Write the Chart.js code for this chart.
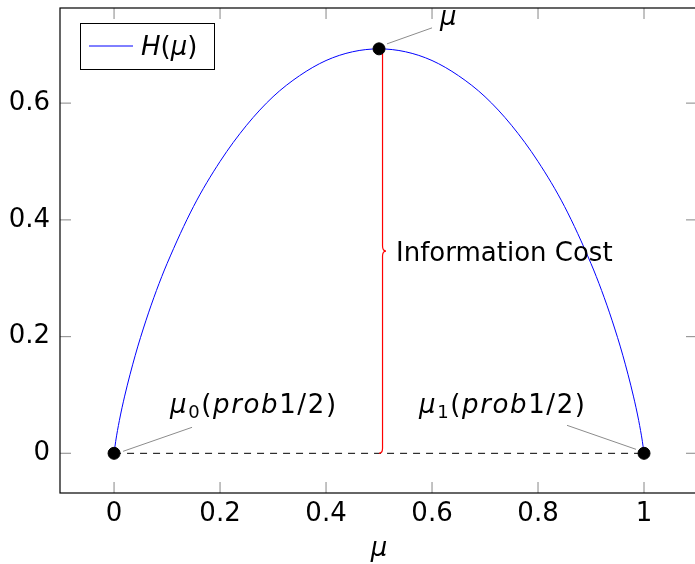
<!DOCTYPE html>
<html>
<head>
<meta charset="utf-8">
<script src="https://cdn.jsdelivr.net/npm/chart.js@4.4.0/dist/chart.umd.min.js"></script>
<style>
  html, body { margin: 0; padding: 0; background: #fff; overflow: hidden; }
  #wrap { width: 697px; height: 564px; }
</style>
</head>
<body>
<div id="wrap"><canvas id="entropyChart"></canvas></div>
<script>
// Valeurs
const muValues = [0, 0.003, 0.01, 0.02, 0.04, 0.06, 0.08, 0.1, 0.15, 0.2, 0.25, 0.3, 0.35, 0.4, 0.45, 0.5,
    0.55, 0.6, 0.65, 0.7, 0.75, 0.8, 0.85, 0.9, 0.92, 0.94, 0.96, 0.98, 0.99, 0.997, 1];
const hValues = [0, 0.020, 0.056, 0.098, 0.168, 0.227, 0.279, 0.325, 0.423, 0.500, 0.562, 0.611, 0.647, 0.673, 0.688, 0.693,
    0.688, 0.673, 0.647, 0.611, 0.562, 0.500, 0.423, 0.325, 0.279, 0.227, 0.168, 0.098, 0.056, 0.020, 0];

// Points marqués
const pointMu = [0, 0.5, 1];
const pointH = [0, 0.693, 0];

// Ligne pointillée entre mu0 et mu1
const chordMu = [0, 1];
const chordH = [0, 0];

// Ticks
const xTicks = [0, 0.2, 0.4, 0.6, 0.8, 1];
const yTicks = [0, 0.2, 0.4, 0.6];

const FONT = '"DejaVu Sans", sans-serif';
Chart.defaults.font.family = FONT;
Chart.defaults.font.size = 26;
Chart.defaults.color = '#000';

// Texte "mathématique" : morceaux italiques / droits / indices
function drawRich(ctx, parts, x, y, targetWidth) {
    const chars = [];
    parts.forEach(([text, style]) => {
        [...text].forEach(c => chars.push([c, style]));
    });
    const fontOf = s => s === 'it' ? `italic 26px ${FONT}` : s === 'sub' ? `18px ${FONT}` : `26px ${FONT}`;
    let natural = 0;
    chars.forEach(([c, s]) => { ctx.font = fontOf(s); natural += ctx.measureText(c).width; });
    const gap = targetWidth && chars.length > 1 ? (targetWidth - natural) / (chars.length - 1) : 0;
    ctx.fillStyle = '#000';
    ctx.textAlign = 'left';
    ctx.textBaseline = 'alphabetic';
    let cx = x;
    chars.forEach(([c, s]) => {
        ctx.font = fontOf(s);
        ctx.fillText(c, cx, s === 'sub' ? y + 5 : y);
        cx += ctx.measureText(c).width + gap;
    });
}

function line(ctx, x1, y1, x2, y2) {
    ctx.beginPath();
    ctx.moveTo(x1, y1);
    ctx.lineTo(x2, y2);
    ctx.stroke();
}

// Accolade rouge + cadre, ticks, légende et annotations
const decorPlugin = {
    id: 'decor',
    afterDatasetDraw(chart, args) {
        if (args.index !== 1) return;
        const { ctx, scales: { x, y } } = chart;
        const bx = x.getPixelForValue(0.5);
        const yb = y.getPixelForValue(0);
        const yt = y.getPixelForValue(pointH[1]);
        const ym = (yb + yt) / 2;
        const a = 3.5;
        ctx.save();
        ctx.strokeStyle = '#ff0000';
        ctx.lineWidth = 1.2;
        ctx.beginPath();
        ctx.moveTo(bx, yb);
        ctx.quadraticCurveTo(bx + a, yb, bx + a, yb - 5);
        ctx.lineTo(bx + a, ym + 5);
        ctx.quadraticCurveTo(bx + a, ym, bx + a + 3.5, ym);
        ctx.quadraticCurveTo(bx + a, ym, bx + a, ym - 5);
        ctx.lineTo(bx + a, yt + 5);
        ctx.quadraticCurveTo(bx + a, yt, bx, yt);
        ctx.stroke();
        ctx.restore();
    },
    afterDraw(chart) {
        const { ctx, chartArea: area, scales: { x, y } } = chart;
        ctx.save();

        // ticks intérieurs gris
        ctx.strokeStyle = '#9a9a9a';
        ctx.lineWidth = 1.2;
        const tl = 11;
        xTicks.forEach(v => {
            const px = x.getPixelForValue(v);
            line(ctx, px, area.bottom, px, area.bottom - tl);
            line(ctx, px, area.top, px, area.top + tl);
        });
        yTicks.forEach(v => {
            const py = y.getPixelForValue(v);
            line(ctx, area.left, py, area.left + tl, py);
            line(ctx, area.right, py, area.right - tl, py);
        });

        // cadre
        ctx.strokeStyle = '#000';
        ctx.lineWidth = 1.2;
        ctx.strokeRect(area.left, area.top, area.right - area.left, area.bottom - area.top);

        // légende
        ctx.fillStyle = '#fff';
        ctx.fillRect(80.5, 23.5, 134, 46);
        ctx.strokeStyle = '#000';
        ctx.lineWidth = 1;
        ctx.strokeRect(80.5, 23.5, 134, 46);
        ctx.strokeStyle = '#0000ff';
        line(ctx, 89, 46, 133, 46);
        drawRich(ctx, [['H', 'it'], ['(', 'up'], ['μ', 'it'], [')', 'up']], 141, 55);

        // épingles des annotations
        const px = i => x.getPixelForValue(pointMu[i]);
        const py = i => y.getPixelForValue(pointH[i]);
        ctx.strokeStyle = '#8c8c8c';
        ctx.lineWidth = 1;
        line(ctx, px(1) + 8, py(1) - 5, px(1) + 53, py(1) - 21);
        line(ctx, px(0) + 9, py(0) - 2, px(0) + 78, py(0) - 26);
        line(ctx, px(2) - 8, py(2) - 4, px(2) - 77, py(2) - 28);

        drawRich(ctx, [['μ', 'it']], px(1) + 61, py(1) - 24);
        drawRich(ctx, [['μ', 'it'], ['0', 'sub'], ['(', 'up'], ['prob', 'it'], ['1/2)', 'up']], px(0) + 56, py(0) - 40, 166);
        drawRich(ctx, [['μ', 'it'], ['1', 'sub'], ['(', 'up'], ['prob', 'it'], ['1/2)', 'up']], px(2) - 225, py(2) - 40, 166);

        // texte de l'accolade
        const ym = (y.getPixelForValue(0) + y.getPixelForValue(pointH[1])) / 2;
        ctx.font = `26px ${FONT}`;
        ctx.fillStyle = '#000';
        ctx.fillText('Information Cost', x.getPixelForValue(0.5) + 17, ym + 10);

        // titre de l'axe x
        ctx.font = `italic 26px ${FONT}`;
        ctx.textAlign = 'center';
        ctx.fillText('μ', x.getPixelForValue(0.5), 556);

        ctx.restore();
    }
};

function initChart() {
    const ctx = document.getElementById('entropyChart').getContext('2d');
    new Chart(ctx, {
        type: 'line',
        data: {
            datasets: [
                {
                    label: 'H(μ)',
                    data: muValues.map((m, i) => ({ x: m, y: hValues[i] })),
                    borderColor: '#0000ff',
                    borderWidth: 1,
                    pointRadius: 0,
                    fill: false,
                    cubicInterpolationMode: 'monotone',
                    order: 3
                },
                {
                    label: 'corde',
                    data: chordMu.map((m, i) => ({ x: m, y: chordH[i] })),
                    borderColor: '#000',
                    borderWidth: 1,
                    borderDash: [7, 6],
                    pointRadius: 0,
                    fill: false,
                    order: 2
                },
                {
                    label: 'points',
                    data: pointMu.map((m, i) => ({ x: m, y: pointH[i] })),
                    showLine: false,
                    pointRadius: 6,
                    pointBackgroundColor: '#000',
                    pointBorderColor: '#000',
                    order: 0
                }
            ]
        },
        options: {
            responsive: true,
            maintainAspectRatio: false,
            animation: false,
            layout: { autoPadding: false, padding: { top: 8, left: 0, right: 0, bottom: 0 } },
            plugins: {
                legend: { display: false },
                tooltip: { enabled: false }
            },
            scales: {
                x: {
                    type: 'linear',
                    min: -0.102,
                    max: 1.1,
                    grid: { display: false, drawTicks: false },
                    border: { display: false },
                    ticks: { padding: 6, maxRotation: 0, callback: v => String(v) },
                    afterBuildTicks: scale => { scale.ticks = xTicks.map(v => ({ value: v })); },
                    afterFit: scale => {
                        scale.height = 71;
                        scale.paddingLeft = 0;
                        scale.paddingRight = 0;
                    }
                },
                y: {
                    type: 'linear',
                    min: -0.068,
                    max: 0.763,
                    grid: { display: false, drawTicks: false },
                    border: { display: false },
                    ticks: { padding: 10, callback: v => String(v) },
                    afterBuildTicks: scale => { scale.ticks = yTicks.map(v => ({ value: v })); },
                    afterFit: scale => {
                        scale.width = 60;
                        scale.paddingTop = 0;
                        scale.paddingBottom = 0;
                    }
                }
            }
        },
        plugins: [decorPlugin]
    });
}

initChart();
</script>
</body>
</html>
